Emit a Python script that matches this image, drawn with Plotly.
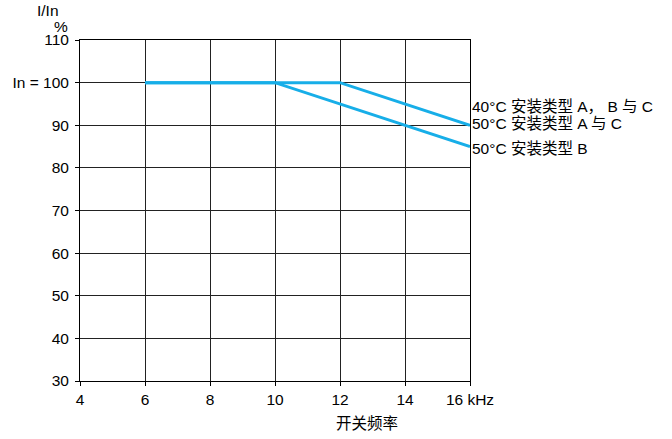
import plotly.graph_objects as go

x_upper = [6, 12, 16]
y_upper = [100, 100, 90]
x_lower = [10, 16]
y_lower = [100, 85]

x_ticks = [4, 6, 8, 10, 12, 14, 16]
x_tick_labels = ["4", "6", "8", "10", "12", "14", "16 kHz"]
y_ticks = [30, 40, 50, 60, 70, 80, 90, 100, 110]
y_tick_labels = ["30", "40", "50", "60", "70", "80", "90", "In = 100", "110"]

labels = ["40°C 安装类型 A， B 与 C", "50°C 安装类型 A 与 C", "50°C 安装类型 B"]
label_y = [94.3, 90.5, 84.5]

color = "#17aee8"
font = "Liberation Sans, Arial, Noto Sans CJK SC, sans-serif"
fs = 15.5

fig = go.Figure()
fig.add_trace(go.Scatter(x=[6] + x_lower, y=[100] + y_lower, mode="lines",
                         line=dict(color=color, width=3), showlegend=False,
                         hoverinfo="skip"))
fig.add_trace(go.Scatter(x=x_upper, y=y_upper, mode="lines",
                         line=dict(color=color, width=3), showlegend=False,
                         hoverinfo="skip"))

for t, yy in zip(labels, label_y):
    fig.add_annotation(x=16, y=yy, text=t, showarrow=False, xanchor="left",
                       xshift=0, yanchor="middle",
                       font=dict(size=fs, color="black", family=font))

fig.add_annotation(xref="paper", yref="paper", x=-0.082, y=1.0, yshift=30,
                   text="I/In", showarrow=False, xanchor="center", yanchor="middle",
                   font=dict(size=fs, color="black", family=font))
fig.add_annotation(xref="paper", yref="paper", x=-0.025, y=1.0, yshift=14,
                   text="%", showarrow=False, xanchor="right", yanchor="middle",
                   font=dict(size=fs, color="black", family=font))
fig.add_annotation(xref="x", yref="paper", x=12.83, y=0, yshift=-42,
                   text="开关频率", showarrow=False, xanchor="center", yanchor="middle",
                   font=dict(size=fs, color="black", family=font))

fig.update_xaxes(range=[4, 16], tickvals=x_ticks, ticktext=x_tick_labels,
                 showgrid=True, gridcolor="#222", gridwidth=1,
                 showline=True, linecolor="black", linewidth=1, mirror=True,
                 ticks="outside", ticklen=4, tickcolor="black", automargin=False,
                 zeroline=False, tickfont=dict(size=fs, color="black", family=font))
fig.update_yaxes(range=[30, 110], tickvals=y_ticks, ticktext=y_tick_labels,
                 showgrid=True, gridcolor="#222", gridwidth=1,
                 showline=True, linecolor="black", linewidth=1, mirror=True,
                 ticks="outside", ticklen=4, tickcolor="black", ticklabelstandoff=3,
                 automargin=False,
                 zeroline=False, tickfont=dict(size=fs, color="black", family=font))

fig.update_layout(width=672, height=439,
                  margin=dict(l=80, r=202, t=40, b=58),
                  plot_bgcolor="white", paper_bgcolor="white",
                  font=dict(family=font, color="black"))

fig.write_html("out.html", config={"displayModeBar": False},
               post_script="document.body.style.margin='0';")
